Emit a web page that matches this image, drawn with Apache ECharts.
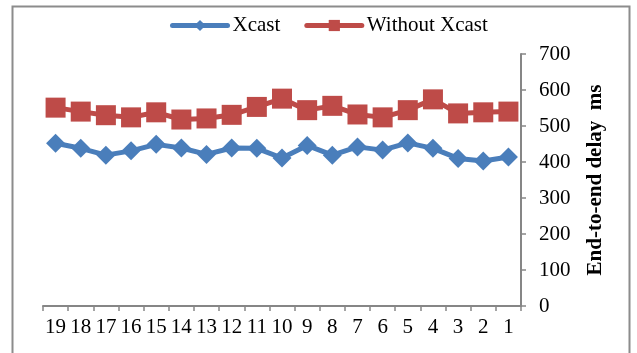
<!DOCTYPE html>
<html><head><meta charset="utf-8">
<script src="https://cdn.jsdelivr.net/npm/echarts@6/dist/echarts.min.js"></script>
<style>html,body{margin:0;padding:0;background:#fff}#c{width:637px;height:353px}</style>
</head><body><div id="c"></div>
<script>
const categories = ['19','18','17','16','15','14','13','12','11','10','9','8','7','6','5','4','3','2','1'];
const xcast = [452,438,419,431,449,439,421,439,438,411,446,419,442,433,453,438,410,403,414];
const withoutXcast = [551,540,530,524,538,518,521,531,553,576,544,556,532,524,544,574,535,538,540];
const yTicks = [0,100,200,300,400,500,600,700];

const chart = echarts.init(document.getElementById('c'), null, {renderer:'canvas'});
const font = 'Liberation Serif';
chart.setOption({
  animation:false,
  backgroundColor:'#fff',
  graphic:[{type:'rect',shape:{x:12.5,y:6.5,width:617,height:360},style:{fill:'none',stroke:'#8c8c8c',lineWidth:2}}],
  legend:{
    top:15, left:170, padding:0, itemWidth:55, itemHeight:14, itemGap:24,
    lineStyle:{width:5, cap:'round'},
    textStyle:{fontFamily:font,fontSize:21,color:'#000'},
    data:['Xcast','Without Xcast']
  },
  grid:{left:43,right:116,top:54,bottom:47},
  xAxis:{
    type:'category', data:categories, boundaryGap:true,
    axisLine:{lineStyle:{color:'#868686',width:2}},
    axisTick:{show:true,length:5,lineStyle:{color:'#868686',width:1.5}},
    axisLabel:{fontFamily:font,fontSize:21,color:'#000',margin:11,interval:0},
    splitLine:{show:false}
  },
  yAxis:{
    type:'value', position:'right', min:0, max:700, interval:100,
    axisLine:{show:true,lineStyle:{color:'#868686',width:2}},
    axisTick:{show:true,length:5,lineStyle:{color:'#868686',width:1.5}},
    axisLabel:{fontFamily:font,fontSize:21,color:'#000',margin:18,
      formatter:v=>yTicks.includes(v)?String(v):''},
    splitLine:{show:false},
    name:'End-to-end delay  ms', nameLocation:'middle', nameRotate:90, nameGap:64,
    nameTextStyle:{fontFamily:font,fontSize:21,fontWeight:'bold',color:'#000'}
  },
  series:[
    {name:'Xcast',type:'line',data:xcast,symbol:'diamond',symbolSize:19,
     lineStyle:{color:'#4a7ebb',width:5},itemStyle:{color:'#4a7ebb'}},
    {name:'Without Xcast',type:'line',data:withoutXcast,symbol:'rect',symbolSize:20,
     lineStyle:{color:'#be4b48',width:5},itemStyle:{color:'#be4b48'}}
  ]
});
</script></body></html>
